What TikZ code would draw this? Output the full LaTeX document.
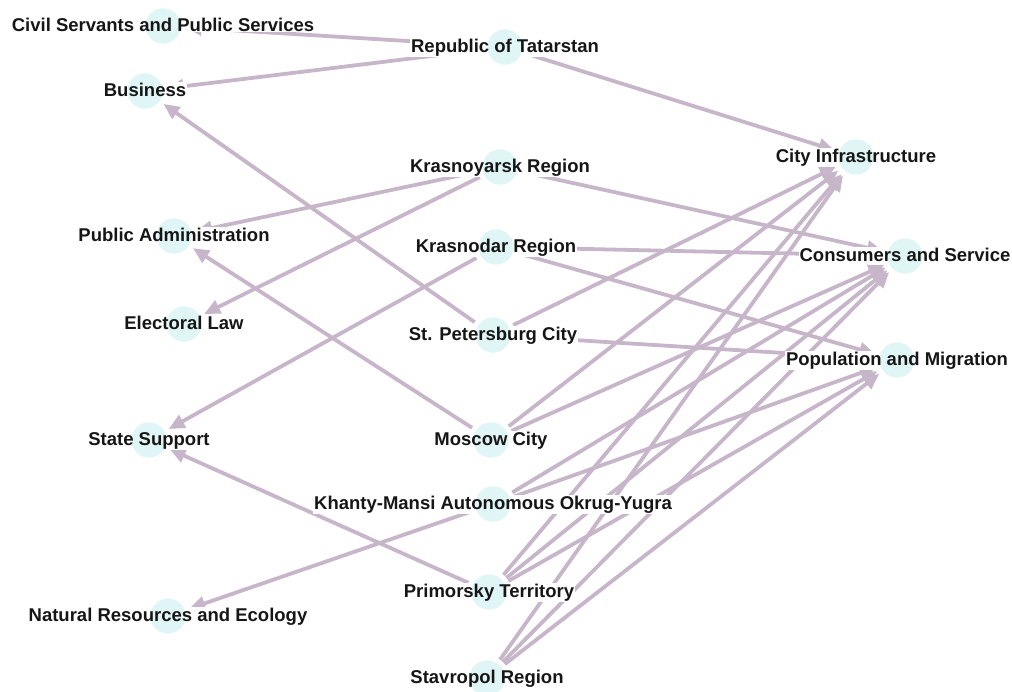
\documentclass[tikz,border=0pt]{standalone}
\usepackage{fontspec}
\setmainfont{Liberation Sans}
\usetikzlibrary{arrows.meta}

\definecolor{edgemauve}{RGB}{199,182,201}
\definecolor{nodecyan}{RGB}{224,245,245}
\definecolor{textdark}{RGB}{22,22,22}

\tikzset{
  topic/.style={circle, fill=nodecyan, minimum size=35pt, inner sep=0pt, outer sep=5pt},
  link/.style={draw=edgemauve, line width=3.8pt, -{Triangle[length=16pt,width=14pt]}},
  lbl/.style={font=\fontsize{18.5}{21}\selectfont\bfseries, text=textdark, inner sep=0pt, anchor=base},
  lblbox/.style={lbl, fill=white, inner sep=1pt}
}

\begin{document}
\begin{tikzpicture}[x=1pt,y=-1pt]
\useasboundingbox (0,0) rectangle (1012,691);

% Draw the topic and region circles
\foreach \n/\x/\y in {civ/163/26, bus/145/91, pub/174/236, ele/184/324, sta/149/440, nat/168/616,
                      tat/505/47, kry/500/167, krd/496/247, spb/493/335, msk/491/440,
                      khm/493/504, pri/489/592, stv/487/678,
                      inf/856/157, con/905/256, pop/897/360}
{
    \node[topic] (\n) at (\x,\y) {};
}

% Draw the links between them
\foreach \a/\b in {tat/civ, tat/bus, tat/inf,
                   kry/pub, kry/ele, kry/con,
                   krd/sta, krd/con, krd/pop,
                   spb/bus, spb/inf, spb/pop,
                   msk/pub, msk/inf, msk/con,
                   khm/nat, khm/con, khm/pop,
                   pri/sta, pri/inf, pri/con, pri/pop,
                   stv/inf, stv/con, stv/pop}
{
    \draw[link] (\a) -- (\b);
}

% Add the labels on top, with a white patch under each
\foreach \n/\txt in {civ/Civil Servants and Public Services, bus/Business,
                     pub/Public Administration, ele/Electoral Law, sta/State Support,
                     nat/Natural Resources and Ecology, tat/Republic of Tatarstan,
                     kry/Krasnoyarsk Region, krd/Krasnodar Region, spb/St. Petersburg City,
                     msk/Moscow City, khm/Khanty-Mansi Autonomous Okrug-Yugra,
                     pri/Primorsky Territory, stv/Stavropol Region,
                     inf/City Infrastructure, con/Consumers and Service, pop/Population and Migration}
{
    \node[lblbox] at ([yshift=-5pt]\n.center) {\phantom{\txt}};
    \node[topic, outer sep=0pt] at (\n.center) {};
    \node[lbl] (\n-text) at ([yshift=-5pt]\n.center) {\txt};
}
\end{tikzpicture}
\end{document}
